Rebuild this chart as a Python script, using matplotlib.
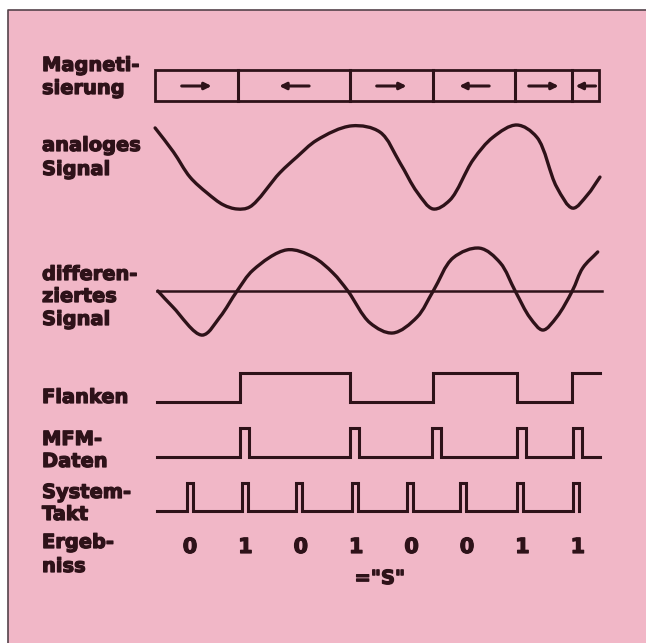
import numpy as np
import matplotlib
matplotlib.use("Agg")
import matplotlib.pyplot as plt
import matplotlib.patheffects as pe
from matplotlib.path import Path
from matplotlib.patches import PathPatch, Rectangle

# ---------------- data ----------------
bits = [0, 1, 0, 1, 0, 0, 1, 1]
result_text = '="S"'
row_labels = [["Magneti-", "sierung"],
              ["analoges", "Signal"],
              ["differen-", "ziertes", "Signal"],
              ["Flanken"],
              ["MFM-", "Daten"],
              ["System-", "Takt"],
              ["Ergeb-", "niss"]]

# magnetisation domains (time in bit cells)
domain_edges = [-0.63, 0.87, 2.89, 4.39, 5.87, 6.90, 7.38]
domain_dirs = [1, -1, 1, -1, 1, -1]

# analog read signal (time, level -1..1)
analog_t = [-0.63, -0.30, 0.00, 0.31, 0.60, 0.85, 1.08, 1.62, 1.93, 2.29, 2.92, 3.43,
            3.79, 4.10, 4.39, 4.69, 5.11, 5.47, 5.90, 6.26, 6.62, 6.91, 7.17, 7.40]
analog_v = [0.93, 0.36, -0.24, -0.62, -0.90, -1.00, -0.95, -0.14, 0.24, 0.64, 0.98, 0.83,
            0.10, -0.60, -1.00, -0.79, 0.17, 0.71, 1.00, 0.71, -0.48, -0.98, -0.67, -0.24]

# differentiated signal (time, level)
diff_t = [-0.58, -0.31, 0.22, 0.54, 0.85, 1.14, 1.75, 2.22, 2.58, 2.85, 3.25,
          3.66, 4.10, 4.39, 4.75, 5.23, 5.60, 5.87, 6.14, 6.37, 6.62, 6.90, 7.09, 7.36]
diff_v = [0.00, -0.38, -1.05, -0.62, 0.00, 0.50, 0.98, 0.81, 0.43, 0.00, -0.76,
          -1.00, -0.62, 0.00, 0.79, 1.02, 0.67, 0.00, -0.64, -0.93, -0.62, 0.00, 0.55, 0.93]

flux_transitions = [0.90, 2.89, 4.39, 5.91, 6.90]
mfm_pulses = [0.90, 2.89, 4.37, 5.90, 6.91]
clock_pulses = [-0.06, 0.93, 1.92, 2.92, 3.91, 4.88, 5.90, 6.92]

# ---------------- style / layout ----------------
W, H = 646, 643
PX0, PXS = 190.0, 55.4          # pixel x of bit 0, pixels per bit cell
INK = "#2e1219"
PINK = "#f1b7c7"
T0, T1 = -0.60, 7.40
bold_fx = [pe.withStroke(linewidth=0.9, foreground=INK)]

fig = plt.figure(figsize=(W / 100, H / 100), dpi=100, facecolor="white")
ax0 = fig.add_axes([0, 0, 1, 1])
ax0.set_xlim(0, W)
ax0.set_ylim(H, 0)
ax0.axis("off")
ax = fig.add_axes([0, 0, 1, 1])
ax.set_xlim(-PX0 / PXS, (W - PX0) / PXS)
ax.set_ylim(H, 0)
ax.axis("off")
ax.patch.set_alpha(0)

# background panel and border
ax0.add_patch(Rectangle((8, 10), W, H, facecolor=PINK, edgecolor="none", zorder=0))
ax0.plot([8, 8, W], [H, 10, 10], color="#55434b", lw=1.2, zorder=1)

# labels
label_baselines = [[71, 94], [151, 175], [280, 302, 325], [403],
                   [445, 467], [498, 520], [548, 572]]
for lines, bls in zip(row_labels, label_baselines):
    for s, b in zip(lines, bls):
        ax0.text(42, b, s, fontsize=14, fontweight="bold", color=INK,
                 family="DejaVu Sans", va="baseline", ha="left",
                 path_effects=bold_fx)


def smooth_path(ts, ys):
    """Centripetal Catmull-Rom through the points, as cubic Bezier segments."""
    pts = np.column_stack([np.asarray(ts, float) * PXS, ys]).astype(float)
    ext = np.vstack([2 * pts[0] - pts[1], pts, 2 * pts[-1] - pts[-2]])
    verts = [pts[0]]
    codes = [Path.MOVETO]
    a = 0.5
    for i in range(1, len(ext) - 2):
        P0, P1, P2, P3 = ext[i - 1], ext[i], ext[i + 1], ext[i + 2]
        d1 = max(np.linalg.norm(P1 - P0) ** a, 1e-6)
        d2 = max(np.linalg.norm(P2 - P1) ** a, 1e-6)
        d3 = max(np.linalg.norm(P3 - P2) ** a, 1e-6)
        B1 = (d1**2 * P2 - d2**2 * P0 + (2 * d1**2 + 3 * d1 * d2 + d2**2) * P1) / (3 * d1 * (d1 + d2))
        B2 = (d3**2 * P1 - d2**2 * P3 + (2 * d3**2 + 3 * d3 * d2 + d2**2) * P2) / (3 * d3 * (d3 + d2))
        verts += [B1, B2, P2]
        codes += [Path.CURVE4] * 3
    v = np.array(verts)
    v[:, 0] /= PXS
    return Path(v, codes)


LW = 2.2
# Magnetisierung box
yb0, yb1, ya = 70, 101, 86
ax.add_patch(Rectangle((domain_edges[0], yb0), domain_edges[-1] - domain_edges[0],
                       yb1 - yb0, fill=False, edgecolor=INK, lw=2.0, zorder=3))
for e in domain_edges[1:-1]:
    ax.plot([e, e], [yb0, yb1], color=INK, lw=2.2, zorder=3)
for a_, b_, d in zip(domain_edges[:-1], domain_edges[1:], domain_dirs):
    c = (a_ + b_) / 2
    L = min(0.54, 0.75 * (b_ - a_))
    xs, xe = (c - L / 2, c + L / 2) if d > 0 else (c + L / 2, c - L / 2)
    ax.annotate("", xy=(xe, ya), xytext=(xs, ya),
                arrowprops=dict(arrowstyle="-|>", color=INK, lw=2.2,
                                mutation_scale=10, shrinkA=0, shrinkB=0))

# analog signal
ay, aa = 167, 42
ax.add_patch(PathPatch(smooth_path(analog_t, [ay - aa * v for v in analog_v]),
                       fill=False, edgecolor=INK, lw=2.4, capstyle="round", zorder=3))

# differentiated signal
dy, da = 291, 42
ax.plot([T0, 7.44], [dy, dy], color=INK, lw=1.8, zorder=3)
ax.add_patch(PathPatch(smooth_path(diff_t, [dy - da * v for v in diff_v]),
                       fill=False, edgecolor=INK, lw=2.4, capstyle="round", zorder=3))

# Flanken
fl_lo, fl_hi = 402, 373
xs, ys = [T0], [fl_lo]
lvl = fl_lo
for tr in flux_transitions:
    xs += [tr, tr]
    nl = fl_hi if lvl == fl_lo else fl_lo
    ys += [lvl, nl]
    lvl = nl
xs.append(T1)
ys.append(lvl)
ax.plot(xs, ys, color=INK, lw=LW, zorder=3, solid_joinstyle="miter")

# MFM-Daten pulses
m_lo, m_hi, mw = 457, 428, 0.16
xs, ys = [T0], [m_lo]
for p in mfm_pulses:
    xs += [p, p, p + mw, p + mw]
    ys += [m_lo, m_hi, m_hi, m_lo]
xs.append(T1)
ys.append(m_lo)
ax.plot(xs, ys, color=INK, lw=LW, zorder=3, solid_joinstyle="miter")

# System-Takt pulses
c_lo, c_hi, cw = 511, 483, 0.11
xs, ys = [T0], [c_lo]
for p in clock_pulses:
    xs += [p, p, p + cw, p + cw]
    ys += [c_lo, c_hi, c_hi, c_lo]
ax.plot(xs, ys, color=INK, lw=LW, zorder=3, solid_joinstyle="miter")

# Ergebnis digits
for i, b in enumerate(bits):
    ax.text(i, 553, str(b), fontsize=15, fontweight="bold", color=INK,
            ha="center", va="baseline", family="DejaVu Sans", path_effects=bold_fx)
ax.text(3.43, 584, result_text, fontsize=14, fontweight="bold", color=INK,
        ha="center", va="baseline", family="DejaVu Sans", path_effects=bold_fx)

fig.savefig("out.png", dpi=100, facecolor="white")
